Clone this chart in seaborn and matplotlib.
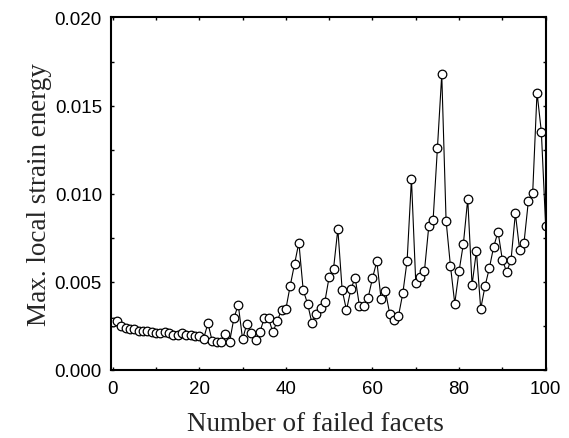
import matplotlib
matplotlib.use("Agg")
import matplotlib.pyplot as plt
import seaborn as sns
import pandas as pd
from matplotlib.ticker import MultipleLocator, FormatStrFormatter

failed_facets = list(range(0, 101))
max_strain_energy = [
    0.00270, 0.00275, 0.00248, 0.00238, 0.00232, 0.00230, 0.00223, 0.00220, 0.00222, 0.00217,
    0.00208, 0.00212, 0.00216, 0.00207, 0.00201, 0.00197, 0.00210, 0.00201, 0.00197, 0.00193,
    0.00190, 0.00178, 0.00265, 0.00162, 0.00160, 0.00160, 0.00206, 0.00160, 0.00294, 0.00370,
    0.00174, 0.00263, 0.00208, 0.00170, 0.00216, 0.00293, 0.00292, 0.00214, 0.00278, 0.00341,
    0.00346, 0.00478, 0.00601, 0.00723, 0.00453, 0.00377, 0.00267, 0.00320, 0.00349, 0.00387,
    0.00529, 0.00573, 0.00799, 0.00453, 0.00339, 0.00457, 0.00523, 0.00362, 0.00364, 0.00411,
    0.00520, 0.00617, 0.00400, 0.00447, 0.00316, 0.00282, 0.00306, 0.00434, 0.00620, 0.01084,
    0.00493, 0.00525, 0.00561, 0.00814, 0.00850, 0.01259, 0.01677, 0.00846, 0.00592, 0.00377,
    0.00561, 0.00717, 0.00970, 0.00482, 0.00674, 0.00347, 0.00476, 0.00579, 0.00700, 0.00784,
    0.00624, 0.00556, 0.00624, 0.00888, 0.00679, 0.00723, 0.00957, 0.01004, 0.01574, 0.01352,
    0.00814,
]
x_ticks = [0, 20, 40, 60, 80, 100]
y_ticks = [0.000, 0.005, 0.010, 0.015, 0.020]
x_label = "Number of failed facets"
y_label = "Max. local strain energy"

df = pd.DataFrame({"facets": failed_facets, "energy": max_strain_energy})

sns.set_style("ticks")
plt.rcParams["font.family"] = ["Liberation Sans", "DejaVu Sans"]
plt.rcParams["xtick.direction"] = "in"
plt.rcParams["ytick.direction"] = "in"

fig = plt.figure(figsize=(5.69, 4.39), dpi=100)
ax = fig.add_axes([0.195, 0.155, 0.764, 0.803])

sns.lineplot(data=df, x="facets", y="energy", ax=ax, color="black", linewidth=0.8,
             marker="o", markersize=6.2, markerfacecolor="white", markeredgecolor="black",
             markeredgewidth=0.9)

ax.set_xlim(-0.4, 100)
ax.set_ylim(0.0, 0.020)
ax.set_xticks(x_ticks)
ax.set_yticks(y_ticks)
ax.xaxis.set_minor_locator(MultipleLocator(10))
ax.yaxis.set_minor_locator(MultipleLocator(0.0025))
ax.yaxis.set_major_formatter(FormatStrFormatter("%.3f"))
ax.tick_params(axis="both", which="both", direction="in", top=True, right=True,
               labelsize=13.5, width=1.0, length=2.5, colors="black")
ax.tick_params(axis="y", which="major", pad=6.5)
ax.tick_params(axis="x", which="major", pad=7.5)
for sp in ax.spines.values():
    sp.set_linewidth(1.5)
    sp.set_color("black")

ax.set_xlabel(x_label, family=["Liberation Serif"], fontsize=19.5, labelpad=10)
ax.set_ylabel(y_label, family=["Liberation Serif"], fontsize=19.5, labelpad=2)
ax.xaxis.label.set_x(0.47)

fig.savefig("out.png", dpi=100)
